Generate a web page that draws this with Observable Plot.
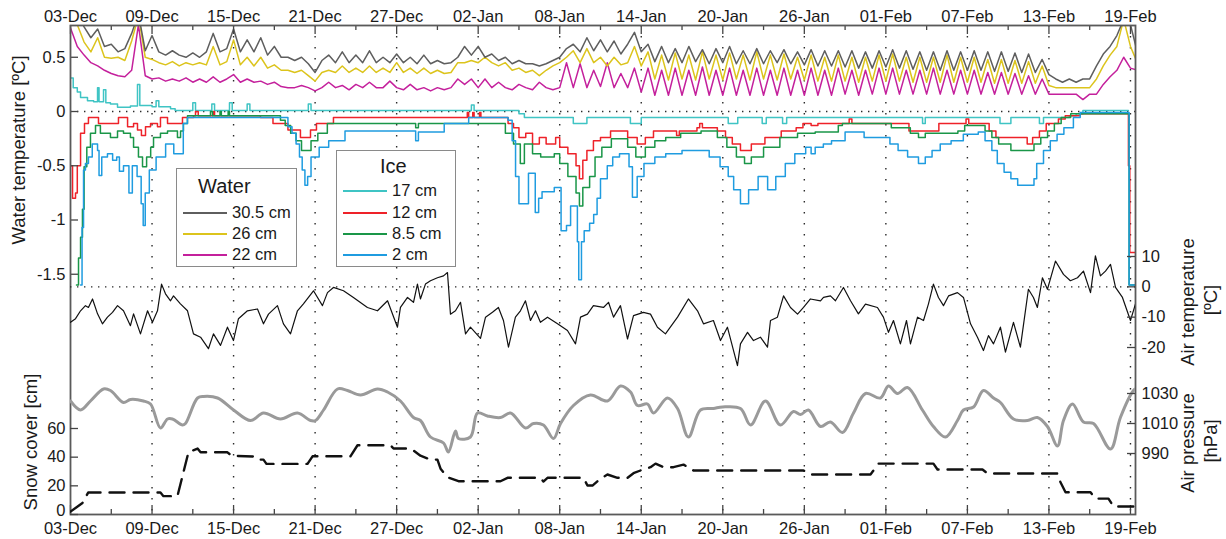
<!DOCTYPE html>
<html><head><meta charset="utf-8">
<script src="https://cdn.jsdelivr.net/npm/d3@7"></script>
<script src="https://cdn.jsdelivr.net/npm/@observablehq/plot@0.6"></script>
<style>
body{margin:0;background:#fff;font-family:"Liberation Sans",Arial,Helvetica,sans-serif;color:#1a1a1a;}
#chart{position:relative;width:1226px;height:539px;overflow:hidden;}
#chart svg{position:absolute;left:0;top:0;}
.vlab{position:absolute;transform:translate(-50%,-50%) rotate(-90deg);white-space:nowrap;line-height:1;}
.leg{position:absolute;box-sizing:border-box;border:1px solid #8a8a8a;background:#fff;}
.leg .tt{position:absolute;font-size:20px;line-height:20px;white-space:nowrap;}
.leg .row{position:absolute;left:6px;font-size:16.5px;line-height:20px;white-space:nowrap;}
.leg .sw{display:inline-block;width:44px;height:2px;vertical-align:middle;margin-right:5px;position:relative;top:-1px;}
</style></head>
<body><div id="chart"></div>
<script>
// ---------- data ----------
const majorTickDays = [0,6,12,18,24,30,36,42,48,54,60,66,72,78];
const dateTickLabels = ["03-Dec","09-Dec","15-Dec","21-Dec","27-Dec","02-Jan","08-Jan","14-Jan","20-Jan","26-Jan","01-Feb","07-Feb","13-Feb","19-Feb"];
const minorTickDays = [3,9,15,21,27,33,39,45,51,57,63,69,75];
const waterTicks = [0.5,0,-0.5,-1,-1.5];
const airTicks = [10,0,-10,-20];
const pressureTicks = [1030,1010,990];
const snowTicks = [20,40,60];
const snowZeroTick = [0];

// water temperatures, every 0.5 day from 03-Dec 00:00
const water305 = [
0.95,0.9,0.78,0.68,0.76,0.6,0.62,0.55,0.58,0.72,
0.9,0.56,0.7,0.55,0.52,0.56,0.52,0.5,0.54,0.5,
0.55,0.72,0.55,0.58,0.76,0.55,0.66,0.55,0.68,0.52,
0.6,0.5,0.5,0.47,0.5,0.44,0.36,0.47,0.52,0.45,
0.55,0.45,0.52,0.45,0.56,0.45,0.5,0.45,0.53,0.45,
0.5,0.44,0.52,0.44,0.47,0.44,0.45,0.5,0.6,0.52,
0.6,0.5,0.53,0.47,0.5,0.44,0.47,0.44,0.44,0.42,
0.44,0.47,0.5,0.58,0.62,0.55,0.68,0.56,0.66,0.55,
0.65,0.53,0.62,0.73,0.55,0.62,0.46,0.6,0.45,0.58,
0.45,0.6,0.46,0.57,0.44,0.58,0.45,0.6,0.44,0.56,
0.44,0.58,0.44,0.56,0.45,0.57,0.44,0.55,0.43,0.57,
0.42,0.56,0.42,0.56,0.41,0.56,0.4,0.55,0.4,0.56,
0.41,0.57,0.4,0.56,0.39,0.55,0.38,0.55,0.38,0.56,
0.38,0.55,0.38,0.56,0.38,0.55,0.37,0.55,0.37,0.54,
0.36,0.53,0.36,0.48,0.34,0.3,0.27,0.3,0.27,0.3,
0.3,0.42,0.53,0.6,0.7,0.85,0.8,0.55];
const water26 = [
0.95,0.8,0.64,0.55,0.68,0.5,0.49,0.5,0.47,0.65,
0.88,0.5,0.48,0.45,0.43,0.46,0.42,0.45,0.43,0.45,
0.43,0.6,0.43,0.46,0.66,0.43,0.5,0.42,0.5,0.4,
0.43,0.38,0.38,0.36,0.38,0.33,0.28,0.36,0.38,0.36,
0.42,0.36,0.4,0.36,0.42,0.36,0.4,0.36,0.45,0.36,
0.4,0.35,0.4,0.35,0.38,0.35,0.36,0.45,0.45,0.47,
0.45,0.5,0.45,0.42,0.45,0.38,0.4,0.36,0.38,0.33,
0.38,0.42,0.45,0.5,0.56,0.45,0.58,0.45,0.5,0.42,
0.5,0.43,0.45,0.6,0.42,0.55,0.3,0.52,0.29,0.54,
0.3,0.52,0.29,0.55,0.3,0.52,0.29,0.54,0.3,0.52,
0.29,0.55,0.3,0.52,0.29,0.53,0.3,0.5,0.29,0.52,
0.28,0.5,0.28,0.52,0.28,0.5,0.27,0.5,0.28,0.52,
0.28,0.53,0.28,0.5,0.27,0.5,0.27,0.5,0.27,0.52,
0.27,0.5,0.27,0.5,0.27,0.48,0.26,0.48,0.26,0.47,
0.26,0.46,0.26,0.42,0.24,0.22,0.22,0.22,0.22,0.22,
0.22,0.3,0.42,0.52,0.6,0.85,0.6,0.45];
const water22 = [
0.77,0.6,0.52,0.45,0.42,0.38,0.35,0.33,0.32,0.38,
0.8,0.33,0.3,0.31,0.28,0.3,0.28,0.31,0.27,0.3,
0.27,0.32,0.27,0.3,0.34,0.27,0.3,0.27,0.28,0.25,
0.27,0.23,0.22,0.22,0.24,0.22,0.19,0.22,0.27,0.22,
0.24,0.2,0.25,0.22,0.27,0.22,0.22,0.28,0.22,0.2,
0.25,0.2,0.22,0.19,0.22,0.2,0.22,0.3,0.25,0.3,
0.22,0.3,0.22,0.27,0.22,0.2,0.25,0.22,0.2,0.27,
0.22,0.2,0.22,0.45,0.22,0.44,0.22,0.38,0.23,0.45,
0.22,0.35,0.22,0.4,0.18,0.4,0.15,0.38,0.15,0.4,
0.15,0.38,0.15,0.41,0.15,0.38,0.15,0.4,0.15,0.38,
0.15,0.4,0.15,0.38,0.15,0.4,0.15,0.38,0.15,0.4,
0.15,0.38,0.15,0.4,0.16,0.38,0.15,0.38,0.16,0.4,
0.16,0.4,0.16,0.38,0.16,0.38,0.16,0.4,0.16,0.38,
0.16,0.38,0.16,0.38,0.16,0.36,0.16,0.36,0.16,0.35,
0.16,0.33,0.16,0.3,0.16,0.16,0.16,0.16,0.16,0.11,
0.16,0.16,0.25,0.32,0.38,0.5,0.4,0.38];

// ice temperatures, [day, °C] step points
const ice17 = [[0,0.31],[0.2,0.22],[0.5,0.18],[0.74,0.13],[1.25,0.1],[1.7,0.09],[1.99,0.22],[2.1,0.09],[2.43,0.2],[2.6,0.08],[2.94,0.07],[3.46,0.04],[4.41,0.05],[4.93,0.25],[5.1,0.055],[6.0,0.045],[6.3,0.1],[6.5,0.045],[7.36,0.025],[7.7,0.01],[9.0,0.08],[9.2,0.01],[10.4,0.07],[10.6,0.01],[11.7,0.08],[11.9,0.01],[13.0,0.07],[13.2,0.01],[17.5,0.07],[17.7,0.01],[29.5,0.06],[29.7,0.01],[33.0,-0.02],[33.4,-0.055],[37.0,-0.11],[38.0,-0.055],[41.2,-0.11],[42,-0.055],[48.4,-0.11],[49.1,-0.055],[50.9,-0.11],[51.2,-0.055],[52.4,-0.11],[52.7,-0.055],[62.7,-0.11],[62.9,-0.055],[68.4,-0.11],[69.2,-0.055],[71.3,-0.11],[71.6,-0.055],[73.5,-0.04],[74.0,-0.02],[74.5,0.01],[77.85,0.01]];
const ice12 = [[0,-0.5],[0.15,-0.8],[0.37,-0.75],[0.5,-0.5],[0.74,-0.2],[1.03,-0.11],[1.32,-0.055],[2.06,-0.11],[3.53,-0.055],[4.2,-0.14],[4.64,-0.11],[4.93,-0.17],[5.22,-0.22],[5.52,-0.14],[5.89,-0.11],[6.4,-0.14],[6.62,-0.055],[7.14,-0.11],[8.24,-0.055],[9.05,-0.04],[9.2,0],[9.4,-0.04],[10.5,0],[10.6,-0.04],[13.98,-0.055],[14.9,-0.11],[16.0,-0.17],[16.92,-0.24],[17.66,-0.17],[18.1,-0.11],[19.35,-0.055],[29.2,-0.01],[29.3,-0.055],[29.6,-0.01],[29.7,-0.055],[30.1,-0.01],[30.2,-0.055],[32.2,-0.11],[32.6,-0.15],[33.0,-0.24],[33.5,-0.2],[34.0,-0.3],[34.5,-0.24],[35.0,-0.3],[35.7,-0.24],[36.0,-0.33],[36.6,-0.39],[37.2,-0.5],[37.45,-0.62],[37.7,-0.45],[38.0,-0.36],[38.48,-0.27],[39.0,-0.24],[39.74,-0.18],[41.0,-0.24],[41.7,-0.3],[42.3,-0.24],[42.9,-0.18],[44.6,-0.22],[44.8,-0.18],[46.1,-0.15],[46.3,-0.11],[46.5,-0.15],[47.6,-0.18],[48.2,-0.24],[48.7,-0.3],[49.3,-0.36],[50.1,-0.3],[51.1,-0.24],[52.3,-0.18],[53.4,-0.15],[53.9,-0.11],[54.5,-0.13],[55.0,-0.11],[57.3,-0.07],[57.5,-0.11],[61.7,-0.18],[63.9,-0.11],[65.9,-0.07],[66.1,-0.11],[67.6,-0.18],[68.1,-0.24],[70.4,-0.3],[70.8,-0.24],[71.3,-0.18],[71.8,-0.11],[72.7,-0.07],[73.2,-0.04],[74.3,-0.02],[77.85,-0.5],[77.95,-1.3],[78.4,-1.3]];
const ice85 = [[0.44,-1.6],[0.59,-1.35],[0.74,-1.16],[0.88,-0.9],[1.0,-0.51],[1.2,-0.33],[1.47,-0.2],[1.84,-0.13],[2.2,-0.2],[2.94,-0.24],[3.46,-0.18],[3.9,-0.2],[4.41,-0.24],[4.64,-0.33],[5.0,-0.42],[5.3,-0.51],[5.6,-0.42],[5.9,-0.33],[6.11,-0.24],[6.62,-0.2],[7.14,-0.18],[7.87,-0.24],[8.1,-0.18],[8.31,-0.11],[8.61,-0.04],[10.3,0],[10.45,-0.04],[11.0,0],[11.1,-0.04],[11.6,0],[11.7,-0.04],[15.45,-0.08],[15.8,-0.13],[16.2,-0.2],[16.6,-0.27],[17.0,-0.36],[17.7,-0.27],[18.2,-0.2],[18.9,-0.11],[25.4,-0.15],[25.6,-0.11],[32.0,-0.2],[32.6,-0.3],[33.1,-0.48],[33.4,-0.3],[34.0,-0.39],[34.6,-0.42],[35.6,-0.39],[36.0,-0.48],[36.6,-0.6],[37.2,-0.75],[37.45,-0.87],[37.7,-0.7],[38.2,-0.6],[38.6,-0.42],[39.1,-0.33],[39.8,-0.25],[41.0,-0.33],[41.6,-0.42],[42.3,-0.33],[43.0,-0.27],[43.8,-0.24],[44.9,-0.2],[46.4,-0.18],[47.6,-0.24],[48.3,-0.33],[49.0,-0.42],[49.6,-0.48],[50.1,-0.42],[51.0,-0.33],[52.2,-0.24],[53.5,-0.2],[54.8,-0.19],[56.5,-0.13],[56.8,-0.11],[60.4,-0.15],[61.8,-0.2],[62.4,-0.24],[62.9,-0.2],[65.3,-0.18],[65.8,-0.13],[67.3,-0.18],[67.8,-0.24],[68.3,-0.3],[69.2,-0.36],[70.9,-0.3],[71.4,-0.24],[71.9,-0.18],[72.4,-0.11],[72.9,-0.055],[73.6,-0.02],[77.9,-1.6],[78.4,-1.6]];
const ice2 = [[0.74,-1.6],[0.85,-1.07],[0.96,-0.54],[1.1,-0.48],[1.32,-0.42],[1.6,-0.3],[1.99,-0.36],[2.1,-0.59],[2.3,-0.42],[2.72,-0.39],[3.1,-0.45],[3.4,-0.42],[3.6,-0.55],[3.9,-0.5],[4.3,-0.75],[4.55,-0.5],[4.9,-0.6],[5.2,-0.85],[5.35,-1.05],[5.5,-0.75],[5.8,-0.54],[6.3,-0.42],[7.0,-0.3],[7.6,-0.39],[8.3,-0.11],[8.6,-0.055],[16.0,-0.14],[16.3,-0.2],[16.6,-0.3],[16.85,-0.42],[17.05,-0.54],[17.25,-0.68],[17.45,-0.6],[17.7,-0.42],[18.3,-0.33],[19.0,-0.27],[20.2,-0.18],[25.4,-0.27],[25.6,-0.19],[27.5,-0.11],[29.3,-0.055],[32.2,-0.08],[32.5,-0.27],[32.75,-0.6],[33.0,-0.85],[33.7,-0.57],[34.2,-0.93],[34.45,-0.8],[34.7,-0.74],[35.6,-0.7],[36.1,-1.1],[36.5,-1.05],[36.8,-0.87],[37.3,-1.2],[37.4,-1.55],[37.6,-1.2],[37.8,-1.1],[38.2,-1.03],[38.5,-0.95],[38.75,-0.8],[39.0,-0.62],[39.5,-0.5],[39.9,-0.42],[40.4,-0.39],[41.1,-0.51],[41.35,-0.79],[41.7,-0.6],[42.2,-0.48],[43.0,-0.42],[43.8,-0.39],[45.0,-0.36],[47.0,-0.42],[47.8,-0.51],[48.4,-0.6],[48.8,-0.72],[49.3,-0.85],[49.9,-0.72],[50.6,-0.6],[51.3,-0.72],[51.9,-0.6],[52.6,-0.48],[53.3,-0.39],[54.1,-0.33],[54.5,-0.39],[54.8,-0.33],[55.4,-0.3],[56.0,-0.27],[57.0,-0.19],[58.4,-0.24],[60.3,-0.3],[60.9,-0.36],[61.6,-0.42],[62.4,-0.48],[62.9,-0.42],[63.4,-0.36],[64.0,-0.3],[64.8,-0.27],[65.7,-0.21],[66.8,-0.19],[67.3,-0.27],[67.8,-0.36],[68.2,-0.48],[68.7,-0.56],[69.2,-0.62],[69.7,-0.68],[70.9,-0.62],[71.1,-0.48],[71.6,-0.36],[72.1,-0.27],[72.6,-0.21],[73.1,-0.15],[73.8,-0.055],[74.3,-0.01],[77.9,-1.6],[78.4,-1.6]];

// air temperature [day, °C]
const airTemp = [[0,-11.7],[0.37,-10.5],[0.74,-7.9],[1.1,-6.2],[1.32,-6.8],[1.62,-4],[1.99,-8.9],[2.35,-12.2],[2.72,-10],[3.09,-8.4],[3.46,-6.2],[3.9,-7.9],[4.41,-12.8],[4.64,-8.9],[5.15,-15.5],[5.67,-7.9],[6.03,-11.7],[6.4,-7.9],[6.7,0.9],[6.99,-2.3],[7.36,-4.6],[7.58,-3],[8.09,-5.6],[8.61,-7.9],[9.05,-15.5],[9.57,-16.6],[10.15,-20.4],[10.52,-15.5],[11.04,-19.3],[11.55,-13.3],[11.99,-17.7],[12.36,-10.5],[13.02,-7.9],[13.76,-7.3],[14.2,-12.2],[14.57,-9],[15.23,-6.2],[15.67,-12.2],[16.19,-15.5],[16.7,-7.9],[17.14,-5.6],[17.88,-1.3],[18.54,-6.2],[18.91,-1.9],[19.35,-0.2],[20.09,-1.3],[20.82,-3.5],[21.85,-6.8],[22.59,-7.9],[23.33,-4.6],[24.06,-13.3],[24.28,-6.8],[24.8,-3.5],[25.24,-5.1],[25.53,0.9],[25.75,-4],[26.12,0.9],[26.49,2],[27.0,3],[27.45,3.6],[27.74,4.7],[27.96,-9],[28.33,-7.9],[28.7,-5.1],[29.07,-15.5],[29.43,-13.3],[30.17,-17],[30.54,-10],[31.05,-8.4],[31.49,-6.8],[31.86,-11.1],[32.23,-19.9],[32.74,-10],[33.11,-7.9],[33.48,-4.6],[33.85,-11.1],[34.22,-7.9],[34.58,-11.7],[35.1,-10],[35.84,-12.2],[36.57,-14.4],[37.16,-18.8],[37.53,-10],[38.04,-9],[38.48,-6.2],[39.22,-6.8],[39.59,-5.1],[39.96,-10],[40.47,-6.2],[40.99,-17.2],[41.43,-9.5],[42.16,-8.4],[42.68,-9],[43.19,-13.3],[43.78,-15.5],[44.67,-10],[45.47,-4],[46.14,-7.9],[46.58,-12.2],[47.31,-11.1],[47.83,-17.7],[48.34,-13.3],[49.08,-26],[49.3,-18.8],[49.82,-15],[50.26,-17.7],[50.77,-16.6],[51.29,-19.9],[51.51,-11.1],[52.02,-10],[52.47,-3],[52.98,-6.8],[53.5,-9],[53.94,-6.8],[54.45,-4],[55.19,-4.6],[55.41,-3.5],[55.92,-3],[56.29,-4.6],[56.88,-0.2],[57.4,-4.6],[57.98,-8.9],[58.5,-5.7],[59.38,-6.8],[59.82,-10],[60.19,-15],[60.56,-11.1],[61.07,-18.8],[61.52,-11.1],[61.81,-18.8],[62.33,-10],[62.77,-11.1],[63.13,-5.7],[63.5,0.9],[63.87,-3.5],[64.24,-6.2],[64.61,-3],[65.27,-1.9],[65.71,-3.5],[66.23,-12.2],[66.74,-16.6],[67.18,-21],[67.55,-16.1],[67.92,-18.8],[68.43,-13.3],[68.8,-21.5],[69.39,-11.7],[69.9,-19.9],[70.49,-0.8],[70.86,-3.5],[71.15,-6.8],[71.52,3],[71.89,-0.8],[72.48,8.5],[73.07,4.1],[73.58,2],[74.1,3],[74.54,5.2],[75.06,-1.9],[75.42,10.2],[75.79,3.6],[76.16,5.2],[76.53,7.4],[76.9,-0.2],[77.41,-3.5],[78.0,-11.1],[78.37,-5.6]];

// air pressure [day, hPa]
const airPressure = [[0,1025],[0.74,1019],[1.47,1025],[2.43,1033],[2.94,1032],[3.9,1024],[4.41,1026],[5.37,1025],[5.89,1023],[6.62,1007],[7.14,1013],[7.5,1013],[8.24,1009],[8.46,1010],[9.35,1027],[9.79,1028],[10.82,1027],[12.0,1019],[13.25,1012],[14.2,1017],[15.45,1013],[16.7,1017],[17.66,1012],[18.03,1012],[18.62,1019],[19.65,1033],[20.38,1032],[21.34,1029],[22.59,1033],[23.33,1031],[24.28,1025],[25.24,1014],[25.75,1012],[26.49,1001],[27.45,997],[27.81,991],[28.33,1005],[28.55,1000],[29.43,1001],[29.95,1017],[30.68,1015],[31.64,1014],[32.38,1017],[33.48,1007],[34.07,1010],[34.8,1009],[35.54,1000],[36.06,1010],[37.01,1022],[38.26,1029],[39.51,1025],[40.47,1035],[41.21,1031],[41.72,1022],[42.46,1023],[42.9,1017],[43.93,1027],[44.67,1020],[45.47,1001],[46.36,1019],[47.31,1020],[47.98,1021],[49.3,1020],[50.04,1009],[51.14,1025],[52.24,1009],[53.2,1018],[53.72,1016],[54.3,1019],[55.19,1008],[55.92,1011],[56.81,1004],[57.62,1017],[58.5,1030],[59.6,1027],[60.19,1035],[60.85,1030],[61.59,1034],[62.69,1019],[63.5,1008],[64.39,1001],[65.27,1012],[65.71,1019],[66.45,1021],[67.18,1032],[67.92,1027],[68.43,1024],[69.39,1013],[70.42,1012],[71.15,1014],[71.89,1008],[72.63,995],[73.07,1012],[73.73,1023],[74.54,1011],[75.28,1010],[76.53,993],[77.26,1014],[78.22,1032],[78.37,1033]];

// snow cover [day, cm]
const snowCover = [[0,2],[0.88,8],[1.3,15.3],[6.62,15.3],[6.84,12.8],[7.87,12.8],[8.68,43.4],[9.35,46],[9.57,43.4],[11.55,43.4],[11.85,41],[13.47,40.5],[13.76,38.3],[14.2,38.3],[14.42,35.3],[17.44,35.3],[17.81,40.6],[20.6,40.6],[21.12,48.3],[23.55,48.3],[23.77,46],[25.0,46],[25.24,44.6],[25.75,41],[26.49,38.3],[27.0,38.3],[27.23,32],[27.74,26],[28.55,23.2],[31.64,23.2],[32.16,25.6],[34.58,25.6],[34.8,23],[35.1,25.6],[37.75,25.6],[38.04,20.2],[38.41,20.2],[39.0,25],[39.51,27.9],[40.25,25.6],[40.99,25.6],[41.43,28.8],[41.94,30.7],[42.68,33],[43.05,35.5],[43.64,33],[44.37,33],[45.11,34.8],[45.84,30.7],[53.94,30.7],[54.45,27.9],[58.87,27.9],[59.46,35.5],[63.5,35.5],[63.8,31.4],[67.11,31.4],[67.48,28.6],[72.63,28.6],[72.85,22.5],[73.22,15.5],[75.06,15.5],[75.42,11.1],[76.38,11.1],[76.75,5.6],[78.37,5.6]];

const waterSeries = [
  {label: "30.5 cm", values: water305, color: "#5e5e5e"},
  {label: "26 cm", values: water26, color: "#dcc41c"},
  {label: "22 cm", values: water22, color: "#c4209c"}];
const iceSeries = [
  {label: "17 cm", values: ice17, color: "#3fc4c4"},
  {label: "12 cm", values: ice12, color: "#ee2229"},
  {label: "8.5 cm", values: ice85, color: "#1a9648"},
  {label: "2 cm", values: ice2, color: "#1f9ce0"}];

// ---------- layout ----------
const W = 1226, H = 539;
const M = {top: 25, bottom: 25, left: 70, right: 91};
const innerW = W - M.left - M.right;
const innerH = H - M.top - M.bottom;
const FONT = '"Liberation Sans", Arial, Helvetica, sans-serif';
const t0 = Date.UTC(2010, 11, 3);
const t = d => new Date(t0 + d * 864e5);
const xDomain = [t(0), t(78.37)];
const labelByTime = new Map(majorTickDays.map((d, i) => [+t(d), dateTickLabels[i]]));
const majorDates = majorTickDays.map(t);
const minorDates = minorTickDays.map(t);
const dotted = {stroke: "#2a2a2a", strokeWidth: 1.4, strokeDasharray: "1.4,5.6"};

function layer(yOpts, marks, xAxisNull = true) {
  return Plot.plot({
    width: W, height: H,
    marginTop: M.top, marginBottom: M.bottom, marginLeft: M.left, marginRight: M.right,
    x: xAxisNull ? {type: "utc", domain: xDomain, axis: null} : {type: "utc", domain: xDomain},
    y: yOpts,
    marks,
    style: {background: "transparent", fontFamily: FONT, fontSize: "16.5px", color: "#1a1a1a", overflow: "visible"}
  });
}

const yFmt = d => String(d);

const base = layer({domain: [-1.6, 0.79], range: [284.6, 25.3]}, [
  Plot.ruleX(majorDates.slice(1), {stroke: "#2a2a2a", strokeWidth: 1.4, strokeDasharray: "1.4,9.6"}),
  Plot.ruleY([0], dotted),
  ...iceSeries.map(s => Plot.line(s.values, {x: p => t(p[0]), y: p => p[1], stroke: s.color, strokeWidth: 1.5, curve: "step-after", clip: "frame"})),
  ...waterSeries.slice().reverse().map(s => Plot.line(s.values, {x: (v, i) => t(i * 0.5), y: v => v, stroke: s.color, strokeWidth: 1.5, clip: "frame"})),
  Plot.tickX(majorDates, {x: d => d, insetBottom: innerH - 9, stroke: "#444", strokeWidth: 1.3}),
  Plot.tickX(majorDates, {x: d => d, insetTop: innerH - 9, stroke: "#444", strokeWidth: 1.3}),
  Plot.tickX(minorDates, {x: d => d, insetBottom: innerH - 5, stroke: "#444", strokeWidth: 1.3}),
  Plot.tickX(minorDates, {x: d => d, insetTop: innerH - 5, stroke: "#444", strokeWidth: 1.3}),
  Plot.tickY(waterTicks, {y: d => d, insetRight: innerW - 8, stroke: "#444", strokeWidth: 1.3}),
  Plot.axisX(majorDates, {anchor: "top", tickSize: 0, tickPadding: 4, tickFormat: d => labelByTime.get(+d), fontSize: 16.5, label: null}),
  Plot.axisX(majorDates, {anchor: "bottom", tickSize: 0, tickPadding: 8, tickFormat: d => labelByTime.get(+d), fontSize: 16.5, label: null}),
  Plot.axisY(waterTicks, {anchor: "left", tickSize: 0, tickPadding: 5, tickFormat: yFmt, fontSize: 16.5, label: null}),
  Plot.frame({stroke: "#5a5a5a", strokeWidth: 1.8})
], false);

const air = layer({domain: [-20, 10], range: [347, 256]}, [
  Plot.ruleY([0], dotted),
  Plot.line(airTemp, {x: p => t(p[0]), y: p => p[1], stroke: "#111", strokeWidth: 1.2, clip: "frame"}),
  Plot.tickY(airTicks, {y: d => d, insetLeft: innerW - 8, stroke: "#444", strokeWidth: 1.3}),
  Plot.axisY(airTicks, {anchor: "right", tickSize: 0, tickPadding: 6, tickFormat: yFmt, fontSize: 16.5, label: null})
]);

const press = layer({domain: [990, 1030], range: [453, 393]}, [
  Plot.line(airPressure, {x: p => t(p[0]), y: p => p[1], stroke: "#9a9a9a", strokeWidth: 3, curve: "catmull-rom", clip: "frame"}),
  Plot.tickY(pressureTicks, {y: d => d, insetLeft: innerW - 8, stroke: "#444", strokeWidth: 1.3}),
  Plot.axisY(pressureTicks, {anchor: "right", tickSize: 0, tickPadding: 6, tickFormat: yFmt, fontSize: 16.5, label: null})
]);

const snow = layer({domain: [0, 60], range: [514, 428]}, [
  Plot.line(snowCover, {x: p => t(p[0]), y: p => p[1], stroke: "#111", strokeWidth: 2.4, strokeDasharray: "15,9", clip: "frame"}),
  Plot.tickY(snowTicks.concat(snowZeroTick), {y: d => d, insetRight: innerW - 8, stroke: "#444", strokeWidth: 1.3}),
  Plot.axisY(snowTicks, {anchor: "left", tickSize: 0, tickPadding: 5, tickFormat: yFmt, fontSize: 16.5, label: null}),
  Plot.axisY(snowZeroTick, {anchor: "left", tickSize: 0, tickPadding: 5, tickFormat: yFmt, fontSize: 16.5, label: null, dy: -4})
]);

const chart = document.getElementById("chart");
chart.append(base, air, press, snow);

// axis titles
function vlabel(text, cx, cy, size) {
  const d = document.createElement("div");
  d.className = "vlab";
  d.textContent = text;
  d.style.left = cx + "px"; d.style.top = cy + "px"; d.style.fontSize = size + "px";
  chart.append(d);
}
vlabel("Water temperature [ºC]", 19, 150, 18.5);
vlabel("Snow cover [cm]", 31, 442, 18.5);
vlabel("Air temperature", 1188, 302, 18.5);
vlabel("[ºC]", 1211, 300, 18.5);
vlabel("Air pressure", 1188, 443, 18.5);
vlabel("[hPa]", 1211, 441, 18.5);

// legends
function legend(title, series, left, top, width, height, titleLeft, titleTop, rowTops) {
  const box = document.createElement("div");
  box.className = "leg";
  Object.assign(box.style, {left: left + "px", top: top + "px", width: width + "px", height: height + "px"});
  const tt = document.createElement("div");
  tt.className = "tt"; tt.textContent = title;
  Object.assign(tt.style, {left: titleLeft + "px", top: titleTop + "px"});
  box.append(tt);
  series.forEach((s, i) => {
    const r = document.createElement("div");
    r.className = "row"; r.style.top = rowTops[i] + "px";
    const sw = document.createElement("span");
    sw.className = "sw"; sw.style.background = s.color;
    r.append(sw, document.createTextNode(s.label));
    box.append(r);
  });
  chart.append(box);
}
legend("Water", waterSeries, 176, 168, 121, 99, 21, 7, [33, 54, 75]);
legend("Ice", iceSeries, 336, 150, 120, 117, 43, 5, [29, 51, 72, 93]);
</script></body></html>
